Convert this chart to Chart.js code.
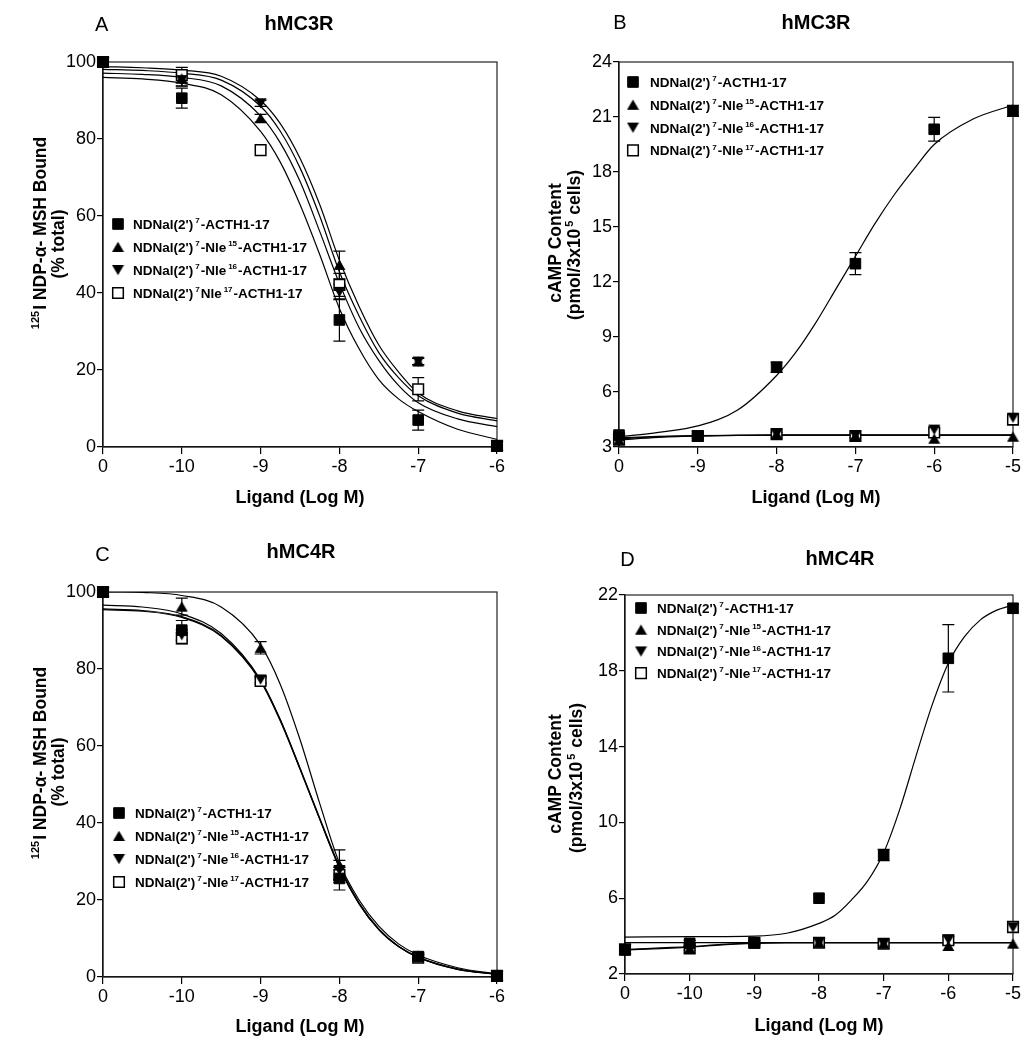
<!DOCTYPE html>
<html>
<head>
<meta charset="utf-8">
<script src="https://cdn.jsdelivr.net/npm/chart.js@4.4.1/dist/chart.umd.min.js"></script>
<style>
  body { margin: 0; background: #fff; }
  .panel { position: absolute; }
</style>
</head>
<body>
<canvas id="pA" class="panel" width="515" height="525" style="left:0;top:0"></canvas>
<canvas id="pB" class="panel" width="516" height="525" style="left:515px;top:0"></canvas>
<canvas id="pC" class="panel" width="515" height="525" style="left:0;top:525px"></canvas>
<canvas id="pD" class="panel" width="516" height="525" style="left:515px;top:525px"></canvas>
<script>
// ---- labels ----
const compoundsA = ["NDNal(2')^{7}-ACTH1-17", "NDNal(2')^{7}-Nle^{15}-ACTH1-17", "NDNal(2')^{7}-Nle^{16}-ACTH1-17", "NDNal(2')^{7}Nle^{17}-ACTH1-17"];
const compounds = ["NDNal(2')^{7}-ACTH1-17", "NDNal(2')^{7}-Nle^{15}-ACTH1-17", "NDNal(2')^{7}-Nle^{16}-ACTH1-17", "NDNal(2')^{7}-Nle^{17}-ACTH1-17"];
const yTitleBind = ['^{125}I NDP-\u03b1- MSH Bound', '(% total)'];
const yTitleCamp = ['cAMP Content', '(pmol/3x10^{5} cells)'];
const xTitle = 'Ligand (Log M)';

// ---- tick labels (broken log axis, "0" = no ligand) ----
const bindTicks = ['0', '-10', '-9', '-8', '-7', '-6'];
const campTicksB = ['0', '-9', '-8', '-7', '-6', '-5'];
const campTicksD = ['0', '-10', '-9', '-8', '-7', '-6', '-5'];

// ---- point positions on the axis ----
const pos6 = [0, 1, 2, 3, 4, 5];
const pos7 = [0, 1, 2, 3, 4, 5, 6];
const fitPos = [0, 0.5, 1, 1.5, 2, 2.25, 2.5, 2.75, 3, 3.25, 3.5, 3.75, 4, 4.5, 5];
const fitPosD = [0, 1, 2, 2.5, 3, 3.25, 3.5, 3.75, 4, 4.25, 4.5, 4.75, 5, 5.25, 5.5, 5.75, 6];
const flatPosB = [0, 0.5, 1, 1.5, 2, 5];
const flatPosD = [0, 1, 1.5, 2, 2.5, 6];

// ---- A: hMC3R binding ----
const aActh = [100, 90.6, null, 33.0, 7.0, 0.3];
const aActhErr = [0.8, 2.6, 0, 5.5, 2.6, 0];
const aNle15 = [100, 95.7, 85.4, 47.3, 22.2, 0.3];
const aNle15Err = [0.5, 2.0, 1.0, 3.6, 0.8, 0];
const aNle16 = [100, 95.3, 89.3, 40.3, 22.2, 0.3];
const aNle16Err = [0.5, 1.5, 0.8, 2.0, 0.8, 0];
const aNle17 = [100, 96.6, 77.1, 42.1, 15.0, 0.3];
const aNle17Err = [0.5, 2.0, 0, 3.0, 3.0, 0];
const aFitActh = [96.0, 95.6, 94.5, 91.5, 82.0, 74.0, 63.0, 50.0, 36.0, 25.5, 17.5, 12.5, 9.2, 4.6, 2.0];
const aFitNle15 = [98.1, 97.8, 97.1, 95.3, 88.5, 82.0, 72.5, 60.0, 45.5, 34.0, 24.5, 18.0, 13.3, 8.8, 6.8];
const aFitNle16 = [98.8, 98.5, 97.9, 96.3, 90.0, 84.0, 75.0, 63.0, 48.5, 36.5, 26.5, 19.5, 14.0, 9.4, 7.4];
const aFitNle17 = [97.1, 96.8, 96.0, 93.8, 86.0, 79.0, 69.0, 56.0, 42.5, 31.0, 22.5, 16.0, 11.5, 7.3, 5.3];

// ---- B: hMC3R cAMP ----
const bActh = [3.65, 3.6, 7.35, 13.0, 20.33, 21.33];
const bActhErr = [0.15, 0.15, 0.28, 0.6, 0.65, 0.3];
const bNle15 = [3.38, 3.6, 3.7, 3.6, 3.45, 3.56];
const bNle16 = [3.5, 3.6, 3.72, 3.62, 3.95, 4.6];
const bNle17 = [3.4, 3.6, 3.7, 3.6, 3.8, 4.5];
const bNle17Err = [0.1, 0.1, 0.1, 0.1, 0.2, 0.3];
const bFitActh = [3.55, 3.8, 4.15, 5.0, 6.9, 8.2, 9.8, 11.6, 13.4, 15.2, 16.8, 18.2, 19.5, 20.9, 21.65];
const bFitNle15 = [3.38, 3.52, 3.6, 3.63, 3.65, 3.65];
const bFitNle16 = [3.5, 3.58, 3.62, 3.64, 3.65, 3.65];
const bFitNle17 = [3.45, 3.56, 3.61, 3.64, 3.65, 3.65];

// ---- C: hMC4R binding ----
const cActh = [100, 90.1, null, 25.6, 5.3, 0.3];
const cActhErr = [0.5, 2.5, 0, 3.0, 0.6, 0];
const cNle15 = [100, 96.2, 85.5, 29.1, 5.5, 0.3];
const cNle15Err = [0.5, 2.2, 1.6, 3.9, 0.6, 0];
const cNle16 = [100, 88.8, 77.3, 27.8, 5.3, 0.3];
const cNle16Err = [0.5, 1.5, 0.8, 2.5, 0.5, 0];
const cNle17 = [100, 88.0, 76.9, 26.5, 5.0, 0.3];
const cNle17Err = [0.5, 1.5, 0.8, 2.0, 0.5, 0];
const cFitActh = [95.4, 95.0, 93.4, 88.5, 76.8, 66.5, 54.0, 41.0, 28.5, 19.0, 12.3, 7.9, 5.1, 2.0, 0.7];
const cFitNle15 = [100.1, 99.9, 99.1, 96.1, 86.2, 76.0, 61.7, 45.1, 29.6, 20.0, 13.2, 8.6, 5.7, 2.4, 0.8];
const cFitNle16 = [95.6, 95.2, 93.6, 88.7, 77.0, 66.8, 54.3, 41.3, 28.8, 19.3, 12.5, 8.0, 5.2, 2.1, 0.7];
const cFitNle17 = [96.6, 96.1, 94.3, 89.2, 77.2, 66.8, 54.1, 41.0, 28.4, 19.0, 12.3, 7.9, 5.1, 2.0, 0.7];

// ---- D: hMC4R cAMP ----
const dActh = [3.27, 3.62, 3.64, 6.0, 8.28, 18.66, 21.3];
const dActhErr = [0.1, 0.15, 0.1, 0, 0.3, 1.78, 0.25];
const dNle15 = [3.3, 3.35, 3.65, 3.65, 3.6, 3.48, 3.6];
const dNle16 = [3.3, 3.4, 3.65, 3.65, 3.6, 3.82, 4.46];
const dNle17 = [3.3, 3.35, 3.65, 3.65, 3.6, 3.78, 4.48];
const dNle17Err = [0.1, 0.1, 0.1, 0.1, 0.1, 0.2, 0.3];
const dFitActh = [3.95, 3.97, 4.0, 4.15, 4.67, 5.1, 5.9, 6.9, 8.4, 10.7, 13.5, 16.2, 18.4, 19.8, 20.7, 21.2, 21.47];
const dFitNle15 = [3.27, 3.42, 3.54, 3.62, 3.65, 3.65];
const dFitNle16 = [3.66, 3.66, 3.66, 3.66, 3.66, 3.66];
const dFitNle17 = [3.3, 3.44, 3.56, 3.63, 3.65, 3.65];

const FONT = "'Liberation Sans', Arial, Helvetica, sans-serif";
Chart.defaults.font.family = FONT;
Chart.defaults.color = '#000';

// triangles centred on their bounding box, so ▲ over ▼ gives an hourglass
function triangleImage(down) {
  const c = document.createElement('canvas');
  c.width = 13; c.height = 12;
  const g = c.getContext('2d');
  g.beginPath();
  if (down) {
    g.moveTo(0.5, 1); g.lineTo(12.5, 1); g.lineTo(6.5, 11.2);
  } else {
    g.moveTo(6.5, 0.8); g.lineTo(12.5, 11); g.lineTo(0.5, 11);
  }
  g.closePath();
  g.fillStyle = '#000';
  g.fill();
  return c;
}
const triUp = triangleImage(false);
const triDown = triangleImage(true);

// marker per compound: ACTH, Nle15, Nle16, Nle17
const markers = [
  { style: 'rect', fill: '#000', r: 7.5, bw: 1 },
  { style: triUp, fill: '#000', r: 7, bw: 0 },
  { style: triDown, fill: '#000', r: 7, bw: 0 },
  { style: 'rect', fill: '#fff', r: 7.5, bw: 1.5 }
];

function parseRich(str) {
  return str.split(/\^\{([^}]*)\}/)
    .map((t, i) => ({ t, sup: i % 2 === 1 }))
    .filter(p => p.t !== '');
}

function drawRich(ctx, str, x, y, size, center, rotate) {
  const parts = parseRich(str);
  const supSize = Math.round(size * 0.62);
  let total = 0;
  parts.forEach(p => {
    ctx.font = `bold ${p.sup ? supSize : size}px ${FONT}`;
    p.w = ctx.measureText(p.t).width + (p.sup ? 3 : 0);
    total += p.w;
  });
  ctx.save();
  ctx.translate(x, y);
  if (rotate) ctx.rotate(-Math.PI / 2);
  ctx.fillStyle = '#000';
  ctx.textBaseline = 'alphabetic';
  ctx.textAlign = 'left';
  let cx = center ? -total / 2 : 0;
  parts.forEach(p => {
    ctx.font = `bold ${p.sup ? supSize : size}px ${FONT}`;
    ctx.fillText(p.t, cx + (p.sup ? 2 : 0), p.sup ? -size * 0.42 : 0);
    cx += p.w;
  });
  ctx.restore();
}

function drawMarker(ctx, m, x, y) {
  ctx.save();
  if (m.style === 'rect') {
    const h = m.r * Math.SQRT1_2;
    ctx.beginPath();
    ctx.rect(x - h, y - h, 2 * h, 2 * h);
    ctx.fillStyle = m.fill;
    ctx.fill();
    ctx.lineWidth = m.bw;
    ctx.strokeStyle = '#000';
    ctx.stroke();
  } else {
    ctx.drawImage(m.style, x - m.style.width / 2, y - m.style.height / 2);
  }
  ctx.restore();
}

// error bars, box frame and panel texts
const panelDecor = {
  id: 'panelDecor',
  beforeDatasetsDraw(chart) {
    const { ctx, chartArea: a, scales: { x, y } } = chart;
    ctx.save();
    ctx.strokeStyle = '#222';
    ctx.lineWidth = 1.2;
    ctx.strokeRect(a.left, a.top, a.right - a.left, a.bottom - a.top);
    ctx.strokeStyle = '#000';
    ctx.lineWidth = 1.2;
    chart.data.datasets.forEach(ds => {
      if (!ds.errors) return;
      ds.data.forEach((p, i) => {
        const e = ds.errors[i];
        if (!e || p.y == null) return;
        const px = x.getPixelForValue(p.x);
        const y1 = y.getPixelForValue(p.y + e);
        const y2 = y.getPixelForValue(p.y - e);
        ctx.beginPath();
        ctx.moveTo(px, y1); ctx.lineTo(px, y2);
        ctx.moveTo(px - 6, y1); ctx.lineTo(px + 6, y1);
        ctx.moveTo(px - 6, y2); ctx.lineTo(px + 6, y2);
        ctx.stroke();
      });
    });
    ctx.restore();
  },
  afterDraw(chart) {
    const { ctx } = chart;
    const t = chart.options.plugins.panelDecor;
    ctx.save();
    ctx.fillStyle = '#000';
    ctx.textAlign = 'center';
    ctx.textBaseline = 'middle';
    ctx.font = `20px ${FONT}`;
    ctx.fillText(t.letter, t.letterAt[0], t.letterAt[1]);
    ctx.font = `bold 20px ${FONT}`;
    ctx.fillText(t.title, t.titleAt[0], t.titleAt[1]);
    ctx.restore();
    t.yTitle.forEach((line, i) => drawRich(ctx, line, t.yTitleAt[i][0], t.yTitleAt[i][1], 17.5, true, true));
    const lg = t.legend;
    t.names.forEach((name, i) => {
      const ry = lg.y + i * lg.dy;
      drawMarker(ctx, markers[i], lg.x, ry);
      drawRich(ctx, name, lg.tx, ry + 5, 13.5, false, false);
    });
  }
};

function makePanel(cfg) {
  const datasets = [];
  cfg.series.forEach((s, i) => {
    const m = markers[i];
    datasets.push({
      data: s.pos.map((p, k) => ({ x: p, y: s.vals[k] })),
      errors: s.errs,
      showLine: false,
      pointStyle: m.style,
      pointRadius: m.r,
      pointBackgroundColor: m.fill,
      pointBorderColor: '#000',
      pointBorderWidth: m.bw,
      clip: false,
      order: i
    });
    datasets.push({
      data: s.fitPos.map((p, k) => ({ x: p, y: s.fit[k] })),
      showLine: true,
      pointRadius: 0,
      borderColor: '#000',
      borderWidth: 1.2,
      cubicInterpolationMode: 'monotone',
      fill: false,
      order: 10
    });
  });
  const b = cfg.box;
  const W = cfg.w, H = 525;
  new Chart(document.getElementById(cfg.id), {
    type: 'scatter',
    data: { datasets },
    options: {
      responsive: false,
      animation: false,
      events: [],
      layout: { padding: { left: 0, top: b.top, right: W - b.right, bottom: 0 } },
      scales: {
        x: {
          type: 'linear',
          min: 0,
          max: cfg.xLabels.length - 1,
          afterFit: s => { s.height = H - b.bottom; },
          ticks: {
            stepSize: 1,
            autoSkip: false,
            maxRotation: 0,
            padding: 2,
            font: { size: 18 },
            color: '#000',
            callback: v => cfg.xLabels[v]
          },
          grid: { drawOnChartArea: false, tickLength: 7, color: '#000', lineWidth: 1.2 },
          border: { color: '#000', width: 1.3 },
          title: {
            display: true,
            text: xTitle,
            color: '#000',
            font: { size: 18, weight: 'bold' },
            padding: { top: 0, bottom: cfg.xTitlePad }
          }
        },
        y: {
          min: cfg.yMin,
          max: cfg.yMax,
          afterFit: s => { s.width = b.left; },
          ticks: { stepSize: cfg.yStep, padding: 1, font: { size: 18 }, color: '#000' },
          grid: { drawOnChartArea: false, tickLength: 6, color: '#000', lineWidth: 1.2 },
          border: { color: '#000', width: 1.3 }
        }
      },
      plugins: {
        legend: { display: false },
        tooltip: { enabled: false },
        panelDecor: cfg.text
      }
    },
    plugins: [panelDecor]
  });
}

makePanel({
  id: 'pA', w: 515, xLabels: bindTicks, yMin: 0, yMax: 100, yStep: 20,
  box: { left: 103, top: 62, right: 497, bottom: 447 }, xTitlePad: 16,
  series: [
    { pos: pos6, vals: aActh, errs: aActhErr, fitPos: fitPos, fit: aFitActh },
    { pos: pos6, vals: aNle15, errs: aNle15Err, fitPos: fitPos, fit: aFitNle15 },
    { pos: pos6, vals: aNle16, errs: aNle16Err, fitPos: fitPos, fit: aFitNle16 },
    { pos: pos6, vals: aNle17, errs: aNle17Err, fitPos: fitPos, fit: aFitNle17 }
  ],
  text: {
    letter: 'A', letterAt: [101.7, 25], title: 'hMC3R', titleAt: [299, 24],
    yTitle: yTitleBind, yTitleAt: [[46, 234], [64, 244]],
    names: compoundsA, legend: { x: 118, tx: 133, y: 224, dy: 23 }
  }
});

makePanel({
  id: 'pB', w: 516, xLabels: campTicksB, yMin: 3, yMax: 24, yStep: 3,
  box: { left: 104, top: 62, right: 498, bottom: 447 }, xTitlePad: 16,
  series: [
    { pos: pos6, vals: bActh, errs: bActhErr, fitPos: fitPos, fit: bFitActh },
    { pos: pos6, vals: bNle15, errs: null, fitPos: flatPosB, fit: bFitNle15 },
    { pos: pos6, vals: bNle16, errs: null, fitPos: flatPosB, fit: bFitNle16 },
    { pos: pos6, vals: bNle17, errs: bNle17Err, fitPos: flatPosB, fit: bFitNle17 }
  ],
  text: {
    letter: 'B', letterAt: [105, 23], title: 'hMC3R', titleAt: [301, 23],
    yTitle: yTitleCamp, yTitleAt: [[46, 243], [65, 245]],
    names: compounds, legend: { x: 118, tx: 135, y: 82, dy: 22.8 }
  }
});

makePanel({
  id: 'pC', w: 515, xLabels: bindTicks, yMin: 0, yMax: 100, yStep: 20,
  box: { left: 103, top: 67, right: 497, bottom: 452 }, xTitlePad: 12,
  series: [
    { pos: pos6, vals: cActh, errs: cActhErr, fitPos: fitPos, fit: cFitActh },
    { pos: pos6, vals: cNle15, errs: cNle15Err, fitPos: fitPos, fit: cFitNle15 },
    { pos: pos6, vals: cNle16, errs: cNle16Err, fitPos: fitPos, fit: cFitNle16 },
    { pos: pos6, vals: cNle17, errs: cNle17Err, fitPos: fitPos, fit: cFitNle17 }
  ],
  text: {
    letter: 'C', letterAt: [102.5, 30.5], title: 'hMC4R', titleAt: [301, 27],
    yTitle: yTitleBind, yTitleAt: [[46, 239], [64, 247]],
    names: compounds, legend: { x: 119, tx: 135, y: 288, dy: 23 }
  }
});

makePanel({
  id: 'pD', w: 516, xLabels: campTicksD, yMin: 2, yMax: 22, yStep: 4,
  box: { left: 110, top: 70, right: 498, bottom: 449 }, xTitlePad: 13,
  series: [
    { pos: pos7, vals: dActh, errs: dActhErr, fitPos: fitPosD, fit: dFitActh },
    { pos: pos7, vals: dNle15, errs: null, fitPos: flatPosD, fit: dFitNle15 },
    { pos: pos7, vals: dNle16, errs: null, fitPos: flatPosD, fit: dFitNle16 },
    { pos: pos7, vals: dNle17, errs: dNle17Err, fitPos: flatPosD, fit: dFitNle17 }
  ],
  text: {
    letter: 'D', letterAt: [112.5, 35], title: 'hMC4R', titleAt: [325, 34.5],
    yTitle: yTitleCamp, yTitleAt: [[46, 249], [67, 253]],
    names: compounds, legend: { x: 126, tx: 142, y: 83, dy: 21.7 }
  }
});
</script>
</body>
</html>
